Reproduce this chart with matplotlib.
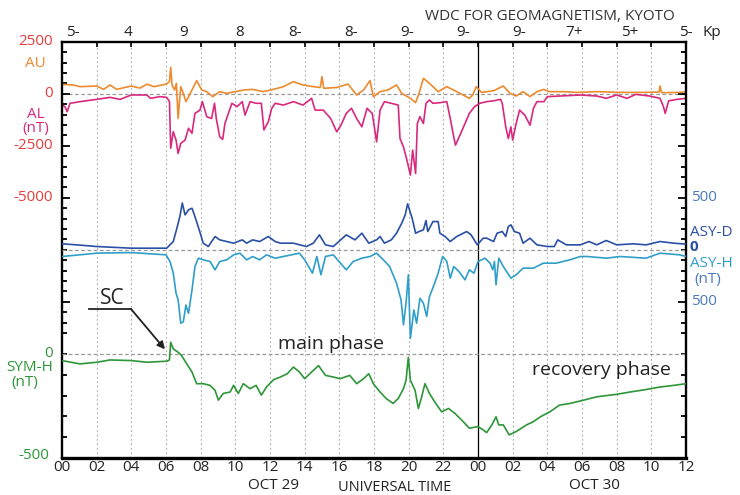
import numpy as np
import matplotlib.pyplot as plt
from matplotlib.transforms import blended_transform_factory

plt.rcParams['font.family'] = ['Open Sans', 'DejaVu Sans']

# Zeitachse: Stunden ab 29. Okt 00 UT
hour_ticks = list(range(0, 37, 2))
hour_labels = ["%02d" % (h % 24) for h in hour_ticks]
kp_values = ["5-", "4", "9", "8", "8-", "8-", "9-", "9-", "9-", "7+", "5+", "5-"]

# AU / AL (nT)
au_t = [0, 0.65, 1.04, 2, 2.4, 2.77, 3.15, 4, 4.5, 4.9, 5.3, 6, 6.2, 6.27, 6.35, 6.5, 6.6, 6.7,
        6.85, 7, 7.15, 7.4, 7.77, 8.06, 8.35, 8.7, 9.1, 9.5, 10, 10.5, 11, 11.6, 12.2, 12.77,
        13.35, 13.9, 14.5, 14.9, 15, 15.1, 15.85, 16.5, 17, 17.4, 17.77, 17.96, 18.35, 18.8,
        19.3, 19.6, 20.1, 20.4, 20.6, 20.85, 21.2, 21.7, 22.2, 22.77, 23.5, 23.7, 23.9, 24.2,
        24.9, 25.46, 25.85, 26.2, 26.6, 27, 27.4, 27.8, 28.1, 28.9, 29.7, 30.85, 32.2, 33.4,
        34.45, 34.5, 34.6, 35.7, 36]
au = [450, 420, 340, 370, 210, 420, 210, 370, 270, 460, 340, 460, 580, 1270, 420, 180, 500, -1190,
      340, 20, -380, 20, 630, 180, 100, -140, 100, 20, 100, 180, 210, 100, 210, 340,
      580, 420, 340, 300, 820, 260, 300, 465, -60, 180, 630, -140, 100, 180,
      420, 20, -220, -430, 20, 740, 500, 100, 340, 100, -220, -60, 340, 65,
      145, 370, 20, -110, 100, -140, 100, 210, 100, 100, 65, 100, 65, 65,
      80, 370, 50, 65, 100]

al_t = [0, 0.17, 0.3, 0.46, 1.04, 2, 2.77, 3.35, 4, 4.9, 5.1, 5.65, 6.04, 6.2, 6.27, 6.42, 6.58,
        6.7, 6.85, 7.1, 7.3, 7.5, 7.67, 7.96, 8.1, 8.35, 8.63, 8.8, 8.9, 9.1, 9.27, 9.4, 9.6,
        9.8, 10.1, 10.4, 10.56, 10.85, 11.2, 11.5, 11.65, 11.9, 12.1, 12.3, 12.77, 13.35, 13.9,
        14.4, 14.6, 15.07, 15.5, 15.85, 16.1, 16.4, 16.7, 17, 17.3, 17.6, 17.9, 18.15, 18.35,
        18.6, 19, 19.4, 19.5, 19.7, 19.9, 20.1, 20.23, 20.4, 20.5, 20.65, 20.85, 21, 21.2,
        21.4, 21.8, 22.2, 22.4, 22.6, 22.7, 22.96, 23.25, 23.5, 23.8, 24.1, 24.5, 24.9, 25.3,
        25.4, 25.6, 25.75, 25.9, 26, 26.2, 26.4, 26.7, 27, 27.2, 27.4, 27.8, 28, 28.7, 29.9,
        30.85, 31.4, 32, 32.6, 33.1, 33.9, 34.5, 34.7, 34.8, 35, 35.5, 36]
al = [-545, -620, -865, -460, -380, -270, -175, -270, -60, -60, -220, -140, -175, -380, -2620, -1820, -2230,
      -2870, -2390, -2230, -1660, -1900, -945, -785, -380, -1100, -1190, -460, -1190, -2070, -2190, -1430, -945,
      -460, -620, -380, -1025, -380, -460, -460, -1740, -1350, -700, -460, -545, -380, -545,
      -220, -785, -785, -1190, -1830, -1500, -945, -700, -1190, -1590, -700, -945, -2310, -785,
      -380, -460, -545, -2150, -2550, -3190, -3910, -2710, -3830, -1430, -1100, -1430, -460, -300,
      -460, -430, -380, -1190, -2070, -2470, -1990, -1430, -945, -620, -460, -380, -340, -270,
      -460, -1590, -2150, -1590, -2230, -1430, -785, -1025, -1510, -700, -380, -380, -140, -110, -60,
      -110, -220, -60, -220, -30, -110, -220, -620, -945, -340, -270, -220]

# ASY-D / ASY-H (nT)
asyd_t = [0, 0.85, 2, 4, 6.04, 6.23, 6.42, 6.6, 6.8, 6.94, 7.1, 7.3, 7.5, 7.67, 7.92, 8.15, 8.44,
          8.83, 9.1, 9.5, 9.9, 10.4, 10.65, 11, 11.4, 11.9, 12.3, 12.6, 13.35, 14.1, 14.5, 14.85,
          15.2, 15.65, 16.4, 16.9, 17.3, 17.7, 18.15, 18.35, 18.6, 19, 19.3, 19.6, 19.8, 19.94,
          20.2, 20.4, 20.6, 20.85, 21, 21.1, 21.4, 21.7, 21.8, 22.1, 22.4, 22.77, 23.35, 23.6,
          23.96, 24.3, 24.5, 24.9, 25.1, 25.4, 25.6, 25.75, 25.9, 26.1, 26.4, 26.6, 27, 27.4, 28,
          28.4, 28.6, 29.1, 29.9, 30.4, 30.85, 31.4, 32, 32.96, 33.7, 34.5, 35.3, 36]
asyd = [58, 48, 32, 16, 16, 48, 80, 190, 320, 450, 336, 385, 400, 320, 190, 64, 32,
        128, 96, 80, 64, 96, 64, 96, 80, 128, 80, 64, 64, 32, 64, 144,
        48, 32, 144, 96, 160, 64, 96, 128, 64, 96, 160, 256, 336, 442,
        304, 160, 176, 192, 282, 176, 272, 272, 160, 128, 80, 128, 176, 144,
        48, 112, 112, 80, 160, 176, 128, 224, 240, 176, 160, 64, 112, 48, 32,
        32, 96, 48, 48, 80, 48, 90, 48, 58, 48, 80, 64, 55]

asyh_t = [0, 2, 4, 6, 6.23, 6.42, 6.58, 6.7, 6.85, 7, 7.15, 7.3, 7.5, 7.67, 7.87, 8.15, 8.54, 8.83,
          9.1, 9.5, 9.9, 10.27, 10.65, 11, 11.4, 11.8, 12.3, 12.77, 13.7, 14, 14.45, 14.7, 14.94,
          15.2, 15.65, 16.4, 16.8, 17.3, 17.77, 18.15, 18.54, 18.9, 19.3, 19.56, 19.7, 19.85,
          19.98, 20.1, 20.3, 20.46, 20.65, 20.85, 21.04, 21.2, 21.5, 21.7, 21.96, 22.2, 22.4,
          22.6, 22.9, 23.25, 23.5, 23.77, 24, 24.4, 24.7, 24.85, 24.95, 25.04, 25.2, 25.46, 25.9,
          26.2, 26.6, 27.2, 27.77, 28.5, 29.3, 29.9, 30.3, 31.4, 32.2, 33.7, 34.5, 35.65, 36]
asyh = [64, 32, 26, 48, 112, 224, 417, 480, 705, 690, 530, 610, 385, 160, 80, 96, 112, 192,
        112, 96, 48, 32, 96, 64, 96, 48, 80, 64, 32, 96, 224, 64, 240,
        64, 48, 192, 112, 80, 64, 32, 96, 160, 320, 480, 720, 510,
        240, 850, 577, 705, 465, 512, 640, 450, 320, 224, 64, 112, 272,
        160, 208, 288, 192, 224, 112, 80, 128, 192, 112, 336, 80, 160, 272,
        240, 176, 176, 128, 128, 96, 64, 64, 80, 64, 80, 32, 48, 64]

# SYM-H (nT)
symh_t = [0, 1.04, 2, 2.77, 4, 4.9, 6.04, 6.2, 6.27, 6.42, 6.7, 6.9, 7.2, 7.5, 7.77, 8.15, 8.54,
          8.83, 9.02, 9.3, 9.7, 9.9, 10.17, 10.46, 10.85, 11.2, 11.5, 11.8, 12.2, 12.6, 13, 13.35,
          13.7, 14, 14.4, 14.8, 15.2, 15.65, 16.04, 16.6, 17, 17.4, 17.7, 17.96, 18.35, 18.7,
          19.1, 19.4, 19.7, 19.85, 19.98, 20.1, 20.37, 20.56, 20.75, 20.94, 21.2, 21.5, 21.9,
          22.3, 22.67, 23.05, 23.5, 24, 24.3, 24.5, 24.8, 25.04, 25.2, 25.46, 25.8, 26.2, 26.8,
          27.2, 27.6, 28.15, 28.7, 29.3, 30.1, 30.85, 32, 32.77, 33.7, 34.5, 35.3, 36]
symh = [-32, -48, -40, -29, -32, -40, -35, -29, 56, 24, 8, -8, -48, -87, -143, -143, -151,
        -175, -222, -190, -183, -151, -190, -143, -167, -151, -198, -159, -124, -111, -95, -63,
        -87, -119, -87, -56, -103, -111, -119, -103, -143, -119, -95, -143, -183, -214,
        -238, -214, -167, -127, -16, -127, -175, -262, -206, -143, -190, -230, -278,
        -262, -286, -317, -357, -349, -365, -378, -341, -302, -341, -341, -389, -373, -341,
        -325, -302, -278, -246, -238, -222, -206, -194, -183, -171, -159, -151, -143]

C_AU = '#ec8a2e'
C_AL = '#d8297f'
C_RED = '#e63c3c'
C_ASYD = '#2a50a6'
C_ASYH = '#2f9fc9'
C_BLUE = '#4a78c2'
C_SYM = '#2e9638'

fig = plt.figure(figsize=(7.4, 4.95), dpi=100)
ax = fig.add_axes([62 / 740, 1 - 458 / 495, 624 / 740, 416.3 / 495])
ax.set_xlim(0, 36)
ax.set_ylim(-17500, 2500)

# Gitter und Nulllinien
for h in hour_ticks[1:-1]:
    ax.axvline(h, color='#aaaaaa', lw=0.8, ls=(0, (1.5, 2.5)), zorder=0)
ax.axvline(24, color='black', lw=0.9, zorder=1)

ax_asy = ax.twinx()
ax_asy.set_ylim(-2000, 2000)
ax_asy.set_axis_off()
ax_sym = ax.twinx()
ax_sym.set_ylim(-500, 1500)
ax_sym.set_axis_off()

ax.axhline(0, color='#999999', lw=0.9, ls=(0, (3, 2)), zorder=0)
ax_asy.axhline(0, color='#999999', lw=0.9, ls=(0, (3, 2)), zorder=0)
ax_sym.axhline(0, color='#999999', lw=0.9, ls=(0, (3, 2)), zorder=0)

ax.plot(al_t, al, color=C_AL, lw=1.2)
ax.plot(au_t, au, color=C_AU, lw=1.2)
ax_asy.plot(asyh_t, -np.array(asyh), color=C_ASYH, lw=1.2)
ax_asy.plot(asyd_t, asyd, color=C_ASYD, lw=1.2)
ax_sym.plot(symh_t, symh, color=C_SYM, lw=1.2)

# Achsen
for side in ['left', 'right', 'top']:
    ax.spines[side].set_linewidth(1.7)
ax.spines['bottom'].set_linewidth(2.4)
ax.set_xticks(hour_ticks)
ax.set_xticklabels(hour_labels, fontsize=11, color='#222222')
ax.tick_params(axis='x', top=True, bottom=False, direction='in', length=3.6, width=1.2, pad=1.5)

ax.set_yticks([0, -2500, -5000, -10000])
ax.set_yticks(list(range(2500, -11501, -500)) + list(range(-12500, -17501, -1000)), minor=True)
ax.set_yticklabels([])
ax.tick_params(axis='y', which='major', left=True, right=True, direction='in', length=5.5, width=1.3)
ax.tick_params(axis='y', which='minor', left=True, right=True, direction='in', length=3.8, width=1.3)

ty = ax.get_yaxis_transform()
ta = ax_asy.get_yaxis_transform()
ts = ax_sym.get_yaxis_transform()
fs = 11

# linke Beschriftungen
ax.text(-0.014, 2500, '2500', transform=ty, color=C_RED, fontsize=fs, ha='right', va='center')
ax.text(-0.042, 1430, 'AU', transform=ty, color=C_AU, fontsize=fs, ha='center', va='center')
ax.text(-0.014, 0, '0', transform=ty, color=C_RED, fontsize=fs, ha='right', va='center')
ax.text(-0.042, -1000, 'AL', transform=ty, color=C_AL, fontsize=fs, ha='center', va='center')
ax.text(-0.042, -1650, '(nT)', transform=ty, color=C_AL, fontsize=fs, ha='center', va='center')
ax.text(-0.014, -2500, '-2500', transform=ty, color=C_RED, fontsize=fs, ha='right', va='center')
ax.text(-0.014, -5000, '-5000', transform=ty, color=C_RED, fontsize=fs, ha='right', va='center')
ax.text(-0.014, 0, '0', transform=ts, color=C_SYM, fontsize=fs, ha='right', va='center')
ax.text(-0.014, -67, 'SYM-H', transform=ts, color=C_SYM, fontsize=fs, ha='right', va='center')
ax.text(-0.06, -138, '(nT)', transform=ts, color=C_SYM, fontsize=fs, ha='center', va='center')
ax.text(-0.02, -490, '-500', transform=ts, color=C_SYM, fontsize=fs, ha='right', va='center')

# rechte Beschriftungen
ax.text(1.008, 500, '500', transform=ta, color=C_BLUE, fontsize=fs, ha='left', va='center')
ax.text(1.006, 170, 'ASY-D', transform=ta, color=C_ASYD, fontsize=fs, ha='left', va='center')
ax.text(1.006, 25, '0', transform=ta, color=C_ASYD, fontsize=fs, ha='left', va='center', fontweight='bold')
ax.text(1.006, -130, 'ASY-H', transform=ta, color=C_ASYH, fontsize=fs, ha='left', va='center')
ax.text(1.014, -285, '(nT)', transform=ta, color=C_BLUE, fontsize=fs, ha='left', va='center')
ax.text(1.008, -500, '500', transform=ta, color=C_BLUE, fontsize=fs, ha='left', va='center')

# Kp oben
tk = blended_transform_factory(ax.transData, ax.transAxes)
for x, kp in zip(np.linspace(0.6, 36, len(kp_values)), kp_values):
    ax.text(x, 1.021, kp, transform=tk, fontsize=fs, ha='center', va='center', color='#222222')
fig.text(712 / 740, 1 - 33 / 495, 'Kp', fontsize=fs, ha='center', va='center', color='#222222')
fig.text(550 / 740, 1 - 16 / 495, 'WDC FOR GEOMAGNETISM, KYOTO', fontsize=fs, ha='center',
         va='center', color='#333333')

# untere Texte
ax.text(12.2, -0.066, 'OCT 29', transform=tk, fontsize=fs, ha='center', va='center', color='#222222')
ax.text(30.7, -0.066, 'OCT 30', transform=tk, fontsize=fs, ha='center', va='center', color='#222222')
ax.text(19.2, -0.071, 'UNIVERSAL TIME', transform=tk, fontsize=10.5, ha='center', va='center',
        color='#222222')

# Annotationen
ax_sym.plot([1.56, 3.98], [216, 216], color='#222222', lw=1.3)
ax_sym.annotate('', xy=(5.94, 22), xytext=(3.98, 216),
                arrowprops=dict(arrowstyle='-|>', color='#222222', lw=1.3, shrinkA=0, shrinkB=0,
                                mutation_scale=11))
ax_sym.text(2.9, 268, 'SC', fontsize=15, ha='center', va='center', color='#222222')
ax_sym.text(15.53, 49, 'main phase', fontsize=14, ha='center', va='center', color='#222222')
ax_sym.text(31.1, -75, 'recovery phase', fontsize=14, ha='center', va='center', color='#222222')

fig.savefig('out.png', dpi=100)
